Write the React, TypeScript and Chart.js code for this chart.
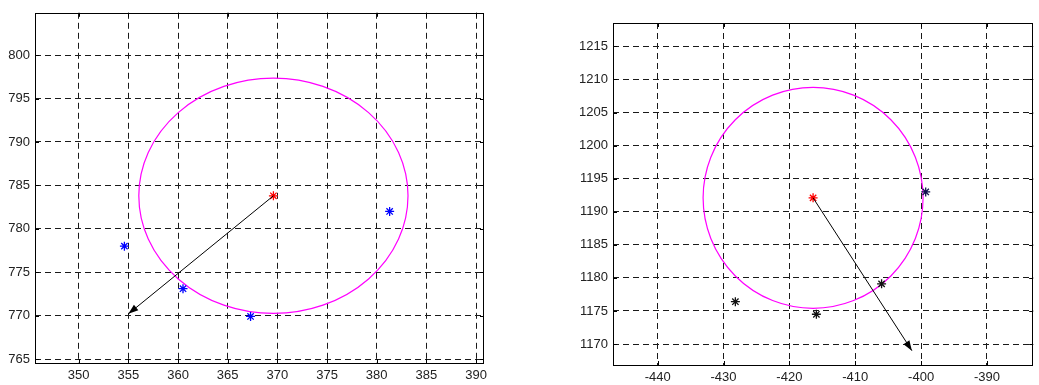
import React, { useEffect, useRef } from "react";
import { Chart, registerables } from "chart.js";

Chart.register(...registerables);

// ---- Left panel data ----
const leftPointsX = [354.6, 360.5, 367.3, 381.3];
const leftPointsY = [778.0, 773.1, 769.9, 782.0];
const leftCenter = [369.6, 783.8];
const leftRadius = 13.55;
const leftArrowTip = [355.0, 770.2];
const leftXTicks = [350, 355, 360, 365, 370, 375, 380, 385, 390];
const leftYTicks = [765, 770, 775, 780, 785, 790, 795, 800];
const leftXRange = [345.6, 390.8];
const leftYRange = [764.54, 804.88];

// ---- Right panel data ----
const rightPointsX = [-428.2, -415.9, -406.0];
const rightPointsY = [1176.4, 1174.5, 1179.1];
const rightEdgePoint = [-399.3, 1193.0];
const rightCenter = [-416.4, 1192.1];
const rightRadius = 16.7;
const rightArrowTip = [-401.4, 1169.0];
const rightXTicks = [-440, -430, -420, -410, -400, -390];
const rightYTicks = [1170, 1175, 1180, 1185, 1190, 1195, 1200, 1205, 1210, 1215];
const rightXRange = [-446.78, -382.98];
const rightYRange = [1166.83, 1218.54];

const FONT = { family: "'Liberation Sans', Arial, sans-serif", size: 13 };

// Circle, arrowhead, axes box and inward tick marks
const overlayPlugin = {
  id: "overlay",
  beforeDatasetsDraw(chart: any, _args: any, opts: any) {
    const { ctx, scales } = chart;
    const xs = scales.x;
    const ys = scales.y;
    const px = xs.getPixelForValue(opts.cx);
    const py = ys.getPixelForValue(opts.cy);
    const rx = Math.abs(xs.getPixelForValue(opts.cx + opts.r) - px);
    const ry = Math.abs(ys.getPixelForValue(opts.cy + opts.r) - py);
    ctx.save();
    ctx.beginPath();
    ctx.ellipse(px, py, rx, ry, 0, 0, Math.PI * 2);
    ctx.strokeStyle = "#ff00ff";
    ctx.lineWidth = 1.2;
    ctx.stroke();
    ctx.restore();
  },
  afterDatasetsDraw(chart: any) {
    const { ctx } = chart;
    const meta = chart.getDatasetMeta(0);
    const p0 = meta.data[0];
    const p1 = meta.data[1];
    const ang = Math.atan2(p1.y - p0.y, p1.x - p0.x);
    const len = 10;
    const half = 3.5;
    const bx = p1.x - len * Math.cos(ang);
    const by = p1.y - len * Math.sin(ang);
    ctx.save();
    ctx.beginPath();
    ctx.moveTo(p1.x, p1.y);
    ctx.lineTo(bx + half * Math.sin(ang), by - half * Math.cos(ang));
    ctx.lineTo(bx - half * Math.sin(ang), by + half * Math.cos(ang));
    ctx.closePath();
    ctx.fillStyle = "#000";
    ctx.fill();
    ctx.restore();
  },
  afterDraw(chart: any) {
    const { ctx, chartArea: a, scales } = chart;
    ctx.save();
    ctx.strokeStyle = "#000";
    ctx.lineWidth = 1;
    ctx.strokeRect(Math.round(a.left) + 0.5, Math.round(a.top) + 0.5, Math.round(a.right - a.left) - 1, Math.round(a.bottom - a.top));
    const t = 4;
    ctx.beginPath();
    scales.x.ticks.forEach((tk: any) => {
      const x = Math.round(scales.x.getPixelForValue(tk.value)) + 0.5;
      ctx.moveTo(x, a.bottom);
      ctx.lineTo(x, a.bottom - t);
      ctx.moveTo(x, a.top);
      ctx.lineTo(x, a.top + t);
    });
    scales.y.ticks.forEach((tk: any) => {
      const y = Math.round(scales.y.getPixelForValue(tk.value)) + 0.5;
      ctx.moveTo(a.left, y);
      ctx.lineTo(a.left + t, y);
      ctx.moveTo(a.right, y);
      ctx.lineTo(a.right - t, y);
    });
    ctx.stroke();
    ctx.restore();
  },
};

function makeConfig(p: any) {
  const scatter = (xs: number[], ys: number[], color: string) => ({
    type: "scatter",
    data: xs.map((x, i) => ({ x, y: ys[i] })),
    pointStyle: "star",
    pointRadius: 4.5,
    pointBorderWidth: 1.3,
    borderColor: color,
    backgroundColor: color,
    showLine: false,
  });
  const datasets: any[] = [
    {
      type: "line",
      data: [
        { x: p.center[0], y: p.center[1] },
        { x: p.tip[0], y: p.tip[1] },
      ],
      borderColor: "#000",
      borderWidth: 1,
      pointRadius: 0,
      fill: false,
    },
    ...p.points.map((s: any) => scatter(s.x, s.y, s.color)),
    scatter([p.center[0]], [p.center[1]], "#ff0000"),
  ];
  const axis = (range: number[], ticks: number[], size: number, isX: boolean) => ({
    type: "linear",
    min: range[0],
    max: range[1],
    afterBuildTicks: (s: any) => {
      s.ticks = ticks.map((v) => ({ value: v }));
    },
    afterFit: (s: any) => {
      if (isX) s.height = size;
      else s.width = size;
    },
    grid: { color: "#1a1a1a", lineWidth: 1, drawTicks: false },
    border: { display: false, dash: [6, 4] },
    ticks: {
      font: FONT,
      color: "#222",
      padding: isX ? 5 : 5,
      autoSkip: false,
      maxRotation: 0,
      callback: (v: any) => String(v),
    },
  });
  return {
    type: "scatter",
    data: { datasets },
    options: {
      animation: false,
      responsive: false,
      devicePixelRatio: 1,
      layout: { padding: p.padding },
      plugins: {
        legend: { display: false },
        tooltip: { enabled: false },
        overlay: { cx: p.center[0], cy: p.center[1], r: p.radius },
      },
      scales: {
        x: axis(p.xRange, p.xTicks, p.xAxisHeight, true),
        y: axis(p.yRange, p.yTicks, p.yAxisWidth, false),
      },
    },
    plugins: [overlayPlugin],
  };
}

function Panel(props: { cfg: any; left: number; width: number }) {
  const ref = useRef<HTMLCanvasElement | null>(null);
  useEffect(() => {
    const chart = new Chart(ref.current as HTMLCanvasElement, makeConfig(props.cfg) as any);
    return () => chart.destroy();
  }, []);
  return (
    <canvas
      ref={ref}
      width={props.width}
      height={385}
      style={{ position: "absolute", left: props.left, top: 0, width: props.width, height: 385 }}
    />
  );
}

const leftCfg = {
  points: [{ x: leftPointsX, y: leftPointsY, color: "#0000ff" }],
  center: leftCenter,
  radius: leftRadius,
  tip: leftArrowTip,
  xTicks: leftXTicks,
  yTicks: leftYTicks,
  xRange: leftXRange,
  yRange: leftYRange,
  padding: { left: 0, top: 10, right: 16, bottom: 0 },
  yAxisWidth: 35,
  xAxisHeight: 22,
};

const rightCfg = {
  points: [
    { x: rightPointsX, y: rightPointsY, color: "#111111" },
    { x: [rightEdgePoint[0]], y: [rightEdgePoint[1]], color: "#101050" },
  ],
  center: rightCenter,
  radius: rightRadius,
  tip: rightArrowTip,
  xTicks: rightXTicks,
  yTicks: rightYTicks,
  xRange: rightXRange,
  yRange: rightYRange,
  padding: { left: 0, top: 23, right: 0, bottom: 0 },
  yAxisWidth: 73,
  xAxisHeight: 20,
};

export default function App() {
  return (
    <div style={{ position: "fixed", left: 0, top: 0, width: 1039, height: 385, background: "#fff" }}>
      <Panel cfg={leftCfg} left={0} width={500} />
      <Panel cfg={rightCfg} left={540} width={499} />
    </div>
  );
}
